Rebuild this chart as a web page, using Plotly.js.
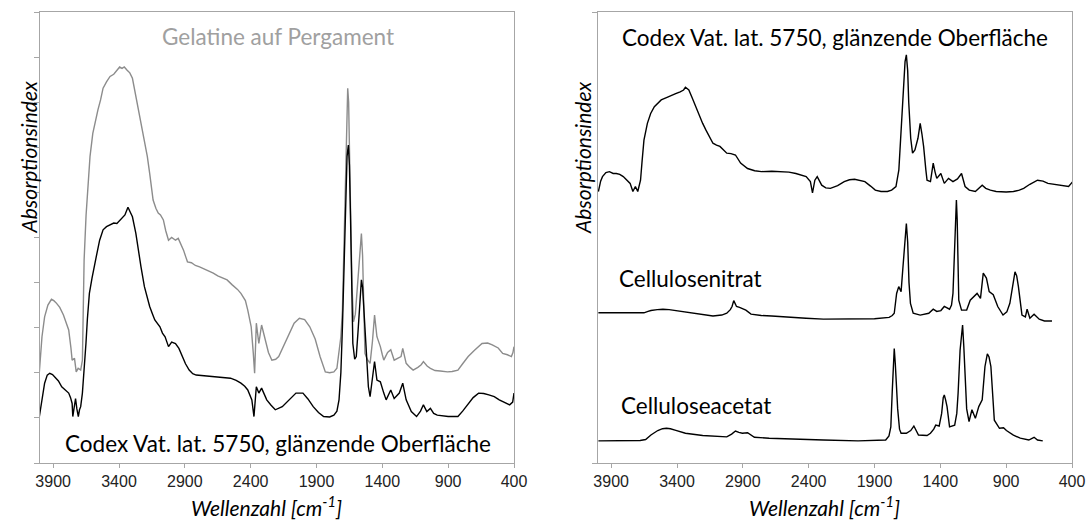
<!DOCTYPE html>
<html>
<head>
<meta charset="utf-8">
<script src="https://cdn.plot.ly/plotly-3.0.1.min.js"></script>
<style>html,body{margin:0;padding:0;background:#fff}#chart{width:1088px;height:520px}</style>
</head>
<body>
<div id="chart"></div>
<script>
// ---- Left panel: Gelatine auf Pergament (grey) ----
const gelatineWn = [4005,3985,3965,3940,3913,3895,3874,3850,3822,3800,3782,3765,3756,3738,3725,3710,3691,3678,3665,3650,3638,3620,3599,3580,3560,3540,3521,3495,3468,3440,3416,3395,3377,3360,3338,3318,3298,3272,3246,3225,3207,3185,3167,3141,3120,3102,3085,3063,3045,3024,3000,2971,2950,2932,2910,2893,2880,2850,2820,2788,2750,2720,2684,2650,2620,2579,2540,2500,2474,2440,2422,2396,2380,2370,2357,2338,2317,2291,2265,2239,2210,2187,2150,2108,2070,2030,1990,1951,1910,1873,1833,1800,1768,1745,1729,1715,1703,1690,1678,1668,1663,1656,1648,1640,1630,1619,1605,1590,1578,1566,1559,1550,1540,1532,1515,1493,1475,1459,1441,1415,1400,1389,1360,1336,1310,1285,1258,1245,1219,1190,1166,1130,1105,1088,1060,1035,1000,960,905,870,826,790,748,700,643,600,565,520,486,450,420,408,400];
const gelatineAbs = [2.02,2.8,3.24,3.5,3.63,3.6,3.54,3.45,3.28,3.12,2.95,2.55,2.28,2.32,2.02,2.1,2.06,2.28,4.5,5.5,6.13,6.8,7.31,7.6,7.83,8.05,8.31,8.45,8.57,8.62,8.71,8.78,8.75,8.78,8.71,8.65,8.53,8.12,7.75,7.4,7.09,6.8,6.42,5.83,5.65,5.54,5.5,5.39,5.15,4.94,5.0,4.94,4.98,4.87,4.72,4.57,4.46,4.44,4.38,4.35,4.3,4.26,4.21,4.15,4.11,4.06,3.95,3.85,3.76,3.6,3.39,3.02,2.43,1.99,3.10,2.65,3.06,2.73,2.45,2.28,2.3,2.36,2.6,2.88,3.1,3.21,3.18,3.02,2.75,2.36,2.02,2.0,2.02,2.1,2.43,2.8,3.39,5.0,6.8,7.9,8.31,8.0,7.0,5.4,3.9,3.13,3.3,3.9,4.5,5.0,5.09,4.6,3.4,2.43,2.3,2.21,2.7,3.28,2.80,2.58,2.4,2.28,2.45,2.51,2.28,2.32,2.36,2.54,2.21,2.12,2.06,2.12,2.18,2.25,2.15,2.10,2.05,2.04,2.02,2.03,2.06,2.2,2.36,2.5,2.65,2.66,2.62,2.55,2.43,2.4,2.36,2.45,2.58];

// ---- Left panel: Codex Vat. lat. 5750 (black) ----
const codexLeftWn = [4005,3985,3965,3945,3926,3905,3887,3860,3835,3810,3782,3768,3756,3751,3740,3730,3720,3709,3700,3691,3678,3665,3651,3640,3625,3605,3586,3573,3547,3521,3495,3468,3440,3416,3395,3377,3355,3332,3315,3298,3272,3246,3233,3207,3185,3167,3145,3128,3089,3070,3050,3024,3000,2971,2945,2919,2895,2867,2840,2814,2750,2684,2620,2553,2510,2474,2445,2422,2391,2375,2357,2338,2317,2278,2245,2213,2160,2110,2056,2003,1965,1925,1885,1846,1800,1768,1745,1729,1715,1703,1690,1678,1668,1658,1650,1642,1633,1624,1610,1598,1585,1572,1559,1550,1540,1532,1520,1506,1493,1475,1459,1441,1415,1389,1371,1336,1310,1271,1245,1219,1180,1140,1110,1088,1062,1035,1010,983,940,900,860,826,790,748,710,669,630,591,550,512,470,433,410,400];
const codexLeftAbs = [1.03,1.45,1.77,1.95,1.99,1.96,1.91,1.82,1.69,1.62,1.55,1.45,1.32,1.03,1.3,1.43,1.2,1.03,1.18,1.25,1.55,2.0,2.65,3.2,3.76,4.1,4.35,4.57,4.94,5.17,5.24,5.28,5.32,5.31,5.38,5.43,5.5,5.67,5.58,5.46,5.09,4.57,4.35,3.91,3.65,3.47,3.3,3.17,3.02,2.88,2.80,2.58,2.68,2.65,2.54,2.36,2.2,2.06,1.98,1.95,1.93,1.91,1.9,1.88,1.83,1.77,1.7,1.62,1.40,1.03,1.69,1.55,1.66,1.40,1.28,1.18,1.25,1.4,1.55,1.55,1.42,1.25,1.12,1.03,1.02,1.06,1.15,1.40,2.0,3.02,4.6,6.0,6.8,7.05,6.6,5.5,4.0,2.65,2.3,2.36,2.9,3.6,4.06,3.9,3.4,3.02,2.3,1.69,1.47,1.9,2.25,1.84,1.80,1.55,1.40,1.62,1.43,1.55,1.77,1.40,1.14,1.03,1.15,1.29,1.14,1.21,1.1,1.06,1.04,1.03,1.03,1.03,1.15,1.32,1.45,1.55,1.54,1.51,1.47,1.40,1.35,1.29,1.35,1.55];

// ---- Right panel: Codex Vat. lat. 5750 ----
const codexRightWn = [3997,3980,3966,3940,3913,3885,3861,3835,3808,3780,3756,3735,3716,3698,3677,3665,3651,3625,3600,3572,3545,3520,3480,3441,3410,3376,3350,3336,3310,3285,3258,3230,3205,3180,3153,3127,3100,3074,3050,3022,2990,2956,2917,2890,2864,2810,2759,2680,2602,2550,2497,2450,2419,2387,2371,2353,2335,2301,2270,2235,2180,2130,2090,2051,2010,1973,1930,1894,1850,1802,1770,1737,1715,1698,1682,1668,1658,1648,1640,1625,1611,1593,1570,1553,1540,1527,1510,1501,1475,1454,1440,1427,1396,1370,1338,1304,1270,1239,1212,1180,1134,1100,1082,1055,1020,976,900,845,800,767,720,662,620,583,540,505,460,426,394];
const codexRightAbs = [6.02,6.25,6.35,6.44,6.46,6.42,6.42,6.4,6.35,6.28,6.20,6.02,6.13,6.02,6.27,6.7,7.16,7.53,7.75,7.90,7.98,8.05,8.1,8.16,8.19,8.23,8.27,8.33,8.27,8.1,7.90,7.7,7.53,7.38,7.24,7.09,7.05,7.02,6.95,6.87,6.86,6.83,6.65,6.58,6.53,6.48,6.46,6.47,6.46,6.45,6.42,6.38,6.35,6.24,5.99,6.27,6.35,6.16,6.1,6.09,6.15,6.24,6.28,6.29,6.27,6.24,6.14,6.05,6.02,6.02,6.05,6.13,6.5,7.31,8.3,8.9,9.05,8.7,8.0,7.2,6.87,6.94,7.2,7.53,7.3,7.02,6.5,6.27,6.24,6.65,6.45,6.31,6.42,6.20,6.31,6.24,6.3,6.42,6.13,6.05,6.02,6.1,6.16,6.09,6.05,6.02,6.01,6.02,6.05,6.09,6.18,6.27,6.25,6.20,6.18,6.16,6.14,6.13,6.24];

// ---- Right panel: Cellulosenitrat ----
const nitratWn = [3997,3800,3651,3620,3598,3550,3507,3460,3415,3350,3284,3200,3127,3060,3022,2995,2982,2969,2948,2925,2904,2877,2838,2760,2681,2550,2420,2288,2150,2025,1900,1789,1765,1750,1740,1732,1716,1706,1698,1685,1670,1658,1648,1638,1627,1606,1553,1488,1454,1427,1396,1370,1330,1315,1304,1292,1282,1278,1272,1265,1260,1239,1200,1173,1147,1121,1095,1085,1074,1050,1029,998,964,924,895,872,850,840,833,820,807,780,754,741,720,688,649,609,552];
const nitratAbs = [3.33,3.33,3.33,3.36,3.38,3.4,3.41,3.4,3.38,3.35,3.32,3.28,3.26,3.28,3.32,3.4,3.47,3.60,3.47,3.45,3.43,3.39,3.30,3.27,3.26,3.23,3.21,3.19,3.19,3.19,3.2,3.23,3.27,3.32,3.55,3.76,3.91,3.85,3.80,4.3,5.0,5.31,4.9,4.0,3.54,3.32,3.28,3.32,3.41,3.36,3.38,3.47,3.41,3.5,3.76,4.8,5.7,5.83,5.4,4.3,3.61,3.39,3.39,3.61,3.69,3.76,3.65,3.9,4.21,4.10,3.80,3.73,3.47,3.28,3.35,3.54,4.0,4.2,4.24,4.15,3.91,3.28,3.24,3.41,3.21,3.30,3.19,3.15,3.15];

// ---- Right panel: Celluloseacetat ----
const acetatWn = [3997,3730,3680,3638,3598,3546,3510,3480,3450,3415,3336,3205,3100,3022,2985,2956,2930,2904,2864,2812,2700,2550,2288,2025,1815,1790,1776,1765,1755,1750,1742,1732,1724,1710,1698,1658,1625,1601,1580,1566,1501,1475,1450,1435,1409,1390,1378,1370,1360,1349,1330,1291,1275,1265,1250,1238,1231,1222,1212,1200,1182,1160,1134,1108,1082,1070,1061,1043,1030,1016,1005,990,951,920,898,845,793,728,688,662,622];
const acetatAbs = [0.49,0.49,0.5,0.52,0.62,0.72,0.76,0.77,0.76,0.73,0.66,0.61,0.59,0.58,0.64,0.71,0.68,0.66,0.67,0.57,0.55,0.53,0.51,0.49,0.51,0.6,0.80,1.6,2.4,2.54,2.2,1.6,1.2,0.75,0.66,0.66,0.72,0.82,0.7,0.62,0.61,0.66,0.75,0.84,0.82,1.1,1.45,1.51,1.4,1.25,0.80,0.84,1.1,1.55,2.5,2.95,3.06,2.6,1.91,1.2,0.92,1.18,0.99,1.25,1.40,1.8,2.14,2.42,2.35,2.14,1.5,0.95,0.77,0.78,0.72,0.62,0.55,0.51,0.57,0.51,0.49];

const xTicks = [3900,3400,2900,2400,1900,1400,900,400];

const W = 1088, PT = 12, PB = 463;
const px = v => v / W;
const py = v => (PB - v) / (PB - PT);

const black = '#000000', grey = '#8c8c8c', frame = '#a6a6a6';
const calibri = 'Lato, "Noto Sans", sans-serif';

function line(x, y, color, xa, ya) {
  return {x: x, y: y, type: 'scatter', mode: 'lines', xaxis: xa, yaxis: ya,
          line: {color: color, width: 1.4, shape: 'linear'}, hoverinfo: 'skip', showlegend: false};
}

const data = [
  line(gelatineWn, gelatineAbs, grey, 'x', 'y'),
  line(codexLeftWn, codexLeftAbs, black, 'x', 'y'),
  line(codexRightWn, codexRightAbs, black, 'x2', 'y2'),
  line(nitratWn, nitratAbs, black, 'x2', 'y2'),
  line(acetatWn, acetatAbs, black, 'x2', 'y2')
];

function xAxis(domain, anchor) {
  return {domain: domain, anchor: anchor, range: [4000, 400], tickvals: xTicks,
    ticktext: xTicks.map(String), ticks: 'outside', ticklen: 4, tickcolor: frame,
    showline: true, mirror: true, linecolor: frame, linewidth: 1,
    showgrid: false, zeroline: false,
    tickfont: {family: '"Liberation Sans", Arial, sans-serif', size: 16, color: '#222'}};
}
function yAxis(anchor, dtick) {
  return {domain: [0, 1], anchor: anchor, range: [0, 10], dtick: dtick, tick0: 0,
    ticks: 'outside', ticklen: 5, tickcolor: frame, showticklabels: false,
    showline: true, mirror: true, linecolor: frame, linewidth: 1,
    showgrid: false, zeroline: false};
}

function note(text, x, y, size, color, extra) {
  return Object.assign({text: text, xref: 'paper', yref: 'paper', x: px(x), y: py(y),
    xanchor: 'center', yanchor: 'middle', showarrow: false,
    font: {family: calibri, size: size, color: color}}, extra || {});
}

const layout = {
  width: 1088, height: 520,
  margin: {l: 0, r: 0, t: PT, b: 520 - PB, autoexpand: false},
  paper_bgcolor: '#fff', plot_bgcolor: '#fff',
  xaxis: xAxis([40 / W, 514 / W], 'y'),
  yaxis: yAxis('x', 1),
  xaxis2: xAxis([598 / W, 1072 / W], 'y2'),
  yaxis2: yAxis('x2', 10),
  annotations: [
    note('Gelatine auf Pergament', 278, 36, 22.5, '#a0a0a0'),
    note('Codex Vat. lat. 5750, glänzende Oberfläche', 278, 443, 22.5, '#000'),
    note('Codex Vat. lat. 5750, glänzende Oberfläche', 835, 37, 22.5, '#000'),
    note('Cellulosenitrat', 617, 278, 22.5, '#000', {xanchor: 'left'}),
    note('Celluloseacetat', 619, 405, 22.5, '#000', {xanchor: 'left'}),
    note('<i>Absorptionsindex</i>', 27.5, 158, 21, '#000', {textangle: -90}),
    note('<i>Absorptionsindex</i>', 582, 158, 21, '#000', {textangle: -90}),
    note('<i>Wellenzahl [cm<sup>-1</sup>]</i>', 266, 506, 21, '#000'),
    note('<i>Wellenzahl [cm<sup>-1</sup>]</i>', 824, 506, 21, '#000')
  ]
};

Plotly.newPlot('chart', data, layout, {staticPlot: true, displayModeBar: false});
</script>
</body>
</html>
